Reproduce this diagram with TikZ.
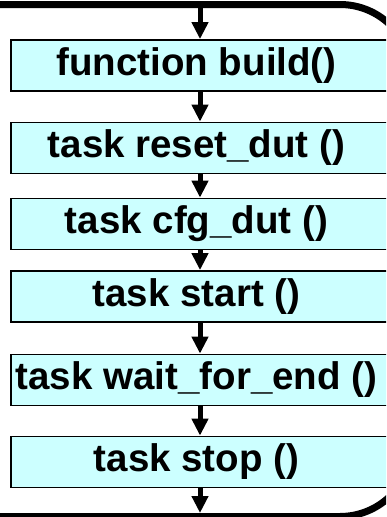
\documentclass[tikz,border=0pt]{standalone}
\usepackage{fontspec}
\setmainfont{Liberation Sans}
\usetikzlibrary{arrows.meta}
\definecolor{boxfill}{HTML}{CCFFFF}
\newcommand{\boxtext}[1]{#1\hspace*{7pt}}
\begin{document}
\begin{tikzpicture}[x=1pt,y=-1pt,
  box/.style={draw=black, line width=1.8pt, fill=boxfill, minimum width=378pt,
    minimum height=51pt, inner sep=0pt, font=\fontsize{38.5}{41}\selectfont\bfseries},
  flow/.style={line width=5pt, -{Triangle[width=16pt,length=17pt]}},
  frame/.style={line width=7pt, rounded corners=72pt}]
\useasboundingbox (0,0) rectangle (386,517);
\clip (0,0) rectangle (386,517);
\draw[frame] (-30,4.5) -- (412,4.5) -- (412,516.5) -- (-30,516.5);
\node[box] (b1) at (200,65.5) {\boxtext{function build()}};
\node[box] (b2) at (200,148) {\boxtext{task reset\_dut ()}};
\node[box] (b3) at (200,224) {\boxtext{task cfg\_dut ()}};
\node[box] (b4) at (200,296.5) {\boxtext{task start ()}};
\node[box] (b5) at (200,380) {\boxtext{task wait\_for\_end ()}};
\node[box] (b6) at (200,462) {\boxtext{task stop ()}};
\coordinate (topin) at (200,4.5);
\coordinate (botout) at (200,513);
\draw[flow] (topin) -- (b1.north);
\draw[flow] (b1.south) -- (b2.north);
\draw[flow] (b2.south) -- (b3.north);
\draw[flow] (b3.south) -- (b4.north);
\draw[flow] (b4.south) -- (b5.north);
\draw[flow] (b5.south) -- (b6.north);
\draw[flow] (b6.south) -- (botout);
\end{tikzpicture}
\end{document}
